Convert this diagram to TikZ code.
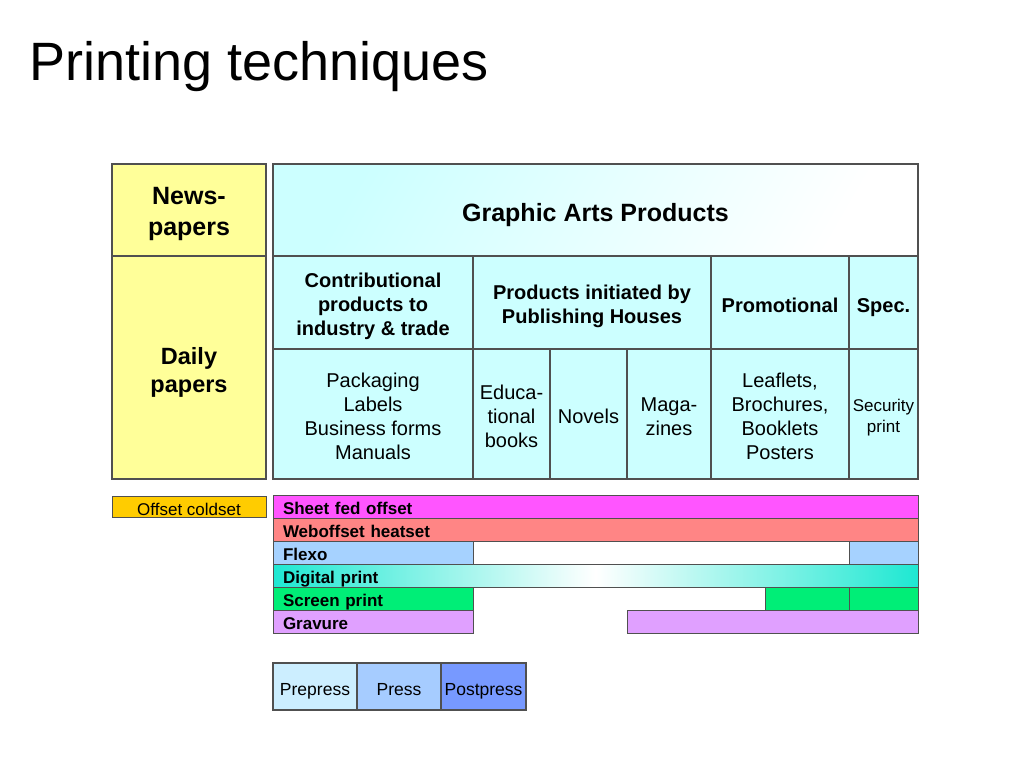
\documentclass[tikz,border=0pt]{standalone}
\usepackage{fontspec}
\setmainfont{Liberation Sans}
\definecolor{cyel}{HTML}{FFFF99}
\definecolor{ccyan}{HTML}{CCFFFF}
\definecolor{cmag}{HTML}{FF55FF}
\definecolor{cred}{HTML}{FF8585}
\definecolor{cflexo}{HTML}{A6D2FF}
\definecolor{cdig}{HTML}{1EE8D2}
\definecolor{cgreen}{HTML}{00EE77}
\definecolor{cgrav}{HTML}{E0A0FF}
\definecolor{ccold}{HTML}{FFCC00}
\definecolor{cpre}{HTML}{CCEEFF}
\definecolor{cpress}{HTML}{A6CCFF}
\definecolor{cpost}{HTML}{7799FF}
\definecolor{cline}{HTML}{505050}
% centred text block whose first baseline lies #1 pt below the cell centre
\newcommand{\ct}[2]{\raisebox{-#1pt}[0pt][0pt]{\begin{tabular}[t]{@{}c@{}}#2\end{tabular}}}
\begin{document}
\begin{tikzpicture}[x=1pt,y=-1pt,
  cell/.style={draw=cline, line width=1.3pt, rectangle, inner sep=0pt},
  ycell/.style={cell, fill=cyel},
  ccell/.style={cell, fill=ccyan},
  big/.style={font=\fontsize{25}{31}\selectfont\bfseries},
  mid/.style={font=\fontsize{23.5}{28}\selectfont\bfseries},
  hdr/.style={font=\fontsize{20}{24}\selectfont\bfseries},
  body/.style={font=\fontsize{20}{24}\selectfont},
  small/.style={font=\fontsize{17}{20.5}\selectfont},
  bar/.style={draw=cline, line width=1pt, rectangle, inner ysep=0pt, inner xsep=10pt,
    minimum height=23pt, align=left, text height=15.6pt, text depth=0pt,
    font=\fontsize{17}{20}\selectfont\bfseries},
  leg/.style={draw=cline, line width=1.3pt, rectangle, inner sep=0pt, minimum height=47pt,
    text height=17pt, text depth=0pt, font=\fontsize{17.5}{21}\selectfont}
]
\useasboundingbox (0,0) rectangle (1023,767);

\node[anchor=base west, font=\fontsize{54}{60}\selectfont] (title) at (26,80.5) {Printing techniques};

% Newspapers column
\node[ycell, big, minimum width=154pt, minimum height=92pt] (news) at (189,210) {\ct{-5}{News-\\papers}};
\node[ycell, mid, minimum width=154pt, minimum height=223pt] (daily) at (189,367.5) {\ct{-3}{Daily\\papers}};

% Graphic arts header
\node[cell, left color=ccyan, right color=white, shading angle=60, big, minimum width=645pt, minimum height=92pt] (gap) at (595.5,210) {\ct{11.5}{Graphic Arts Products}};

% Row 2
\node[ccell, hdr, minimum width=200pt, minimum height=93pt] (contrib) at (373,302.5) {\ct{-15.3}{Contributional\\products to\\industry \& trade}};
\node[ccell, hdr, minimum width=238pt, minimum height=93pt] (publ) at (592,302.5) {\ct{-2.8}{Products initiated by\\Publishing Houses}};
\node[ccell, hdr, minimum width=138pt, minimum height=93pt] (promo) at (780,302.5) {\ct{9.5}{Promotional}};
\node[ccell, hdr, minimum width=69pt, minimum height=93pt] (spec) at (883.5,302.5) {\ct{9.5}{Spec.}};

% Row 3
\node[ccell, body, minimum width=200pt, minimum height=130pt] (pack) at (373,414) {\ct{-27}{Packaging\\Labels\\Business forms\\Manuals}};
\node[ccell, body, minimum width=77pt, minimum height=130pt] (edu) at (511.5,414) {\ct{-15}{Educa-\\tional\\books}};
\node[ccell, body, minimum width=77pt, minimum height=130pt] (nov) at (588.5,414) {\ct{9}{Novels}};
\node[ccell, body, minimum width=84pt, minimum height=130pt] (mag) at (669,414) {\ct{-3}{Maga-\\zines}};
\node[ccell, body, minimum width=138pt, minimum height=130pt] (leaf) at (780,414) {\ct{-27}{Leaflets,\\Brochures,\\Booklets\\Posters}};
\node[ccell, small, minimum width=69pt, minimum height=130pt] (sec) at (883.5,414) {\ct{-2.5}{Security\\print}};

% Bars
\node[draw=cline, line width=1pt, fill=ccold, inner sep=0pt, minimum width=154pt, minimum height=21pt,
  text height=17pt, text depth=0pt, font=\fontsize{17}{20}\selectfont] (cold) at (189,506.5) {Offset coldset};
\node[bar, fill=cmag, text width=625pt] (sheet) at (595.5,506.5) {Sheet fed offset};
\node[bar, fill=cred, text width=625pt] (web) at (595.5,529.5) {Weboffset heatset};
\node[bar, fill=cflexo, text width=180pt] (flexoA) at (373,552.5) {Flexo};
\node[bar, fill=cflexo, text width=49pt] (flexoB) at (883.5,552.5) {};
\node[bar, left color=cdig, right color=cdig, middle color=white, text width=625pt] (dig) at (595.5,575.5) {Digital print};
\node[bar, fill=cgreen, text width=180pt] (scrA) at (373,598.5) {Screen print};
\node[bar, fill=cgreen, text width=64pt] (scrB) at (807,598.5) {};
\node[bar, fill=cgreen, text width=49pt] (scrC) at (883.5,598.5) {};
\node[bar, fill=cgrav, text width=180pt] (gravA) at (373,621.5) {Gravure};
\node[bar, fill=cgrav, text width=271pt] (gravB) at (772.5,621.5) {};

% Legend
\node[leg, fill=cpre, minimum width=84pt] (pre) at (315,686.5) {Prepress};
\node[leg, fill=cpress, minimum width=84pt] (press) at (399,686.5) {Press};
\node[leg, fill=cpost, minimum width=85pt] (post) at (483.5,686.5) {Postpress};
\end{tikzpicture}
\end{document}
